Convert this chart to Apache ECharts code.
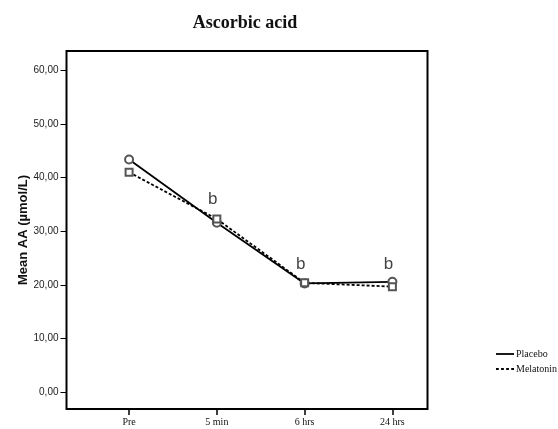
<!DOCTYPE html>
<html><head><meta charset="utf-8">
<script src="https://cdn.jsdelivr.net/npm/echarts@6/dist/echarts.min.js"></script>
<style>html,body{margin:0;padding:0;background:#fff}#c{width:558px;height:429px}</style>
</head><body><div id="c"></div>
<script>
const categories = ['Pre', '5 min', '6 hrs', '24 hrs'];
const placebo = [43.4, 31.6, 20.3, 20.6];
const melatonin = [41.0, 32.3, 20.4, 19.7];
const sigLabels = ['', 'b', 'b', 'b'];
const sigY = [null, 36.0, 23.8, 23.8];
const yTicks = [0, 10, 20, 30, 40, 50, 60];
const xTicks = [0, 1, 2, 3];

const chart = echarts.init(document.getElementById('c'));
const toPts = arr => arr.map((v, i) => [i, v]);
chart.setOption({
  animation: false,
  backgroundColor: '#fff',
  title: {
    text: 'Ascorbic acid', left: 240, top: 9, textAlign: 'center',
    textStyle: { fontFamily: 'Liberation Serif', fontWeight: 'bold', fontSize: 18, color: '#111' }
  },
  grid: { left: 66.5, right: 130.5, top: 51, bottom: 20, show: true, borderColor: '#000', borderWidth: 2, backgroundColor: 'transparent', outerBoundsMode: 'none', containLabel: false },
  legend: {
    orient: 'vertical', left: 491, top: 344, itemGap: 5, itemWidth: 18, itemHeight: 2,
    textStyle: { fontFamily: 'Liberation Serif', fontSize: 10, color: '#111', padding: [0, 0, 0, -3] },
    data: [
      { name: 'Placebo', icon: 'path://M0,0h20v2h-20z', itemStyle: { color: '#000', borderWidth: 0 } },
      { name: 'Melatonin', icon: 'path://M0,0h3v2h-3z M5.5,0h3v2h-3z M11,0h3v2h-3z M16.5,0h3v2h-3z', itemStyle: { color: '#000', borderWidth: 0 } }
    ]
  },
  xAxis: {
    type: 'value', min: -0.713, max: 3.40,
    splitLine: { show: false },
    axisLine: { show: false, onZero: false },
    axisTick: { show: true, customValues: xTicks, length: 6, lineStyle: { color: '#000', width: 1.5 } },
    axisLabel: { customValues: xTicks, formatter: v => categories[Math.round(v)], fontFamily: 'Liberation Serif', fontSize: 10, color: '#111', margin: 8 }
  },
  yAxis: {
    type: 'value', min: -3.1, max: 63.6,
    name: 'Mean AA (µmol/L)', nameLocation: 'middle', nameGap: 37, nameMoveOverlap: false,
    nameTextStyle: { fontFamily: 'Liberation Sans', fontWeight: 'bold', fontSize: 13, color: '#111' },
    splitLine: { show: false },
    axisLine: { show: false, onZero: false },
    axisTick: { show: true, customValues: yTicks, length: 6, lineStyle: { color: '#000', width: 1 } },
    axisLabel: { customValues: yTicks, formatter: v => v.toFixed(2).replace('.', ','), fontFamily: 'Liberation Sans', fontSize: 10, color: '#222', margin: 8 }
  },
  series: [
    {
      name: 'Placebo', type: 'line', data: toPts(placebo),
      symbol: 'emptyCircle', symbolSize: 8,
      lineStyle: { color: '#000', width: 1.8, type: 'solid' },
      itemStyle: { color: '#555', borderColor: '#555', borderWidth: 1 }, z: 3
    },
    {
      name: 'Melatonin', type: 'line', data: toPts(melatonin),
      symbol: 'emptyRect', symbolSize: 7,
      lineStyle: { color: '#000', width: 1.8, type: [3, 2] },
      itemStyle: { color: '#555', borderColor: '#555', borderWidth: 1 }, z: 4
    },
    {
      name: 'sig', type: 'scatter', data: sigY.map((v, i) => [i, v]),
      symbolSize: 0, silent: true,
      label: { show: true, position: 'inside', offset: [-4, 0], formatter: p => sigLabels[p.dataIndex],
        fontFamily: 'Liberation Sans', fontSize: 17, color: '#111' }
    }
  ]
});
</script></body></html>
